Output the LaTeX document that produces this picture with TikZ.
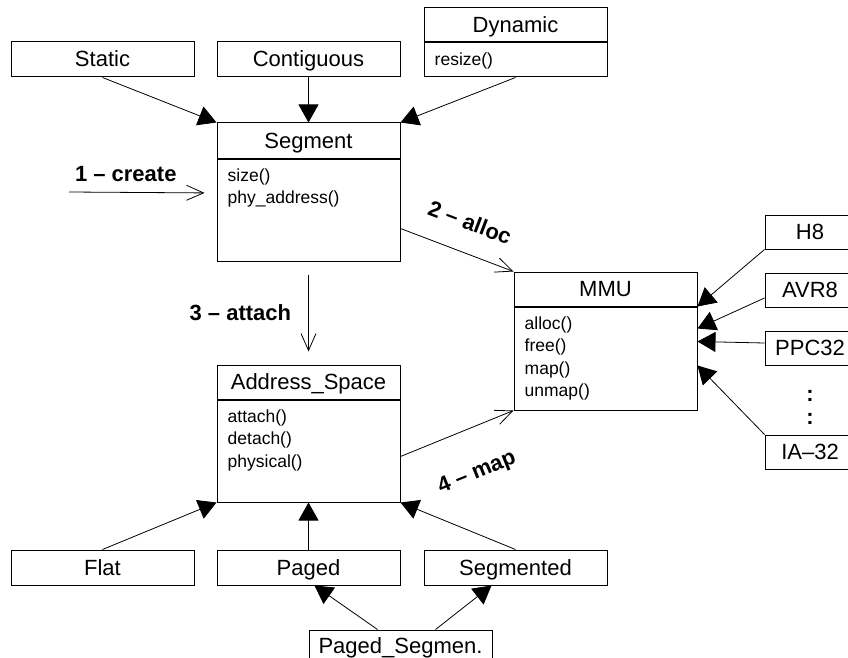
\documentclass[tikz,border=0pt]{standalone}
\usepackage{fontspec}
\setmainfont{Liberation Sans}
\usetikzlibrary{arrows.meta, positioning}
\tikzstyle{cls} = [rectangle, draw, line width=1pt, minimum width=183pt, minimum height=35pt, inner sep=0pt, text height=17pt, text depth=2pt, font=\fontsize{22}{26}\selectfont]
\tikzstyle{body} = [rectangle, draw, line width=1pt, minimum width=183pt, inner sep=0pt]
\tikzstyle{ops} = [anchor=north west, inner sep=0pt, align=left, font=\fontsize{17.5}{22.5}\selectfont]
\tikzstyle{port} = [rectangle, draw, line width=1pt, minimum width=90pt, minimum height=34pt, inner sep=0pt, text height=17pt, text depth=2pt, font=\fontsize{22}{26}\selectfont]
\tikzstyle{dotcol} = [inner sep=0pt, align=center, font=\fontsize{22}{23}\selectfont\bfseries]
\tikzstyle{lbl} = [inner sep=2pt, font=\fontsize{22}{26}\selectfont\bfseries]
\tikzstyle{inherit} = [-{Triangle[length=18pt,width=20pt]}, line width=0.8pt]
\tikzstyle{call} = [-{Straight Barb[length=17pt,width=15pt]}, line width=0.8pt]

\begin{document}
\begin{tikzpicture}[x=1pt, y=-1pt]
\clip (0,0) rectangle (848,658);

% segment and its kinds
\node[cls] (seghead) at (308.5,140.5) {Segment};
\node[body, minimum height=102pt, below=0pt of seghead] (segbody) {};
\node[ops] (segops) at ([xshift=11pt,yshift=-10pt]segbody.north west) {size()\\phy\_address()};

\node[cls, above=45pt of seghead] (contig) {Contiguous};
\node[cls, left=22pt of contig] (static) {Static};
\node[body, minimum height=34pt, anchor=south west] (dynbody) at ([xshift=23pt]contig.south east) {};
\node[cls, minimum height=34pt, above=0pt of dynbody] (dynhead) {Dynamic};
\node[ops] (dynops) at ([xshift=11pt,yshift=-10pt]dynbody.north west) {resize()};

% address space and its kinds
\node[cls, minimum height=34pt, below=103pt of segbody] (ashead) {Address\_Space};
\node[body, minimum height=102pt, below=0pt of ashead] (asbody) {};
\node[ops] (asops) at ([xshift=11pt,yshift=-10pt]asbody.north west) {attach()\\detach()\\physical()};

\node[cls, below=47pt of asbody] (paged) {Paged};
\node[cls, left=22pt of paged] (flat) {Flat};
\node[cls, right=23pt of paged] (segmented) {Segmented};
\node[cls, text depth=5pt, below=44pt of paged.south east] (pagedseg) {Paged\_Segmen.};

% mmu and the ports
\node[cls, minimum height=34pt] (mmuhead) at (605.5,289) {MMU};
\node[body, minimum height=103pt, below=0pt of mmuhead] (mmubody) {};
\node[ops] (mmuops) at ([xshift=11pt,yshift=-10pt]mmubody.north west) {alloc()\\free()\\map()\\unmap()};

\node[port] (h8) at (810,232) {H8};
\node[port, below=23pt of h8] (avr) {AVR8};
\node[port, below=23pt of avr] (ppc) {PPC32};
\node[dotcol, below=25pt of ppc] (dots) {:\\:};
\node[port, below=69pt of ppc] (ia32) {IA--32};

\coordinate (user) at (69,192);

% generalizations
\draw[inherit] (static.south) -- (seghead.north west);
\draw[inherit] (contig.south) -- (seghead.north);
\draw[inherit] (dynbody.south) -- (seghead.north east);
\draw[inherit] (flat.north) -- (asbody.south west);
\draw[inherit] (paged.north) -- (asbody.south);
\draw[inherit] (segmented.north) -- (asbody.south east);
\draw[inherit] ([xshift=-23pt]pagedseg.north) -- ([xshift=6pt]paged.south);
\draw[inherit] ([xshift=35pt]pagedseg.north) -- ([xshift=-24pt]segmented.south);
\draw[inherit] (h8.south west) -- (mmuhead.south east);
\draw[inherit] ([yshift=-8pt]avr.west) -- ([yshift=-22pt]mmubody.north east);
\draw[inherit] ([yshift=5pt]ppc.west) -- ([yshift=-35pt]mmubody.north east);
\draw[inherit] (ia32.north west) -- ([yshift=-59pt]mmubody.north east);

% numbered steps
\draw[call, shorten >=12pt] (user) -- ([yshift=17pt]segbody.west)
  node[lbl, pos=0.385, above=8pt] (create) {1 -- create};
\draw[call] ([yshift=33pt]segbody.south east) -- (mmuhead.north west)
  node[lbl, pos=0.52, sloped, above=20pt] (alloc) {2 -- alloc};
\draw[call, shorten <=13pt, shorten >=13pt] (segbody.south) -- (ashead.north)
  node[lbl, midway, left=15pt] (attach) {3 -- attach};
\draw[call] ([yshift=46pt]asbody.south east) -- (mmubody.south west)
  node[lbl, pos=0.53, sloped, below=32pt] (map) {4 -- map};

\end{tikzpicture}
\end{document}
